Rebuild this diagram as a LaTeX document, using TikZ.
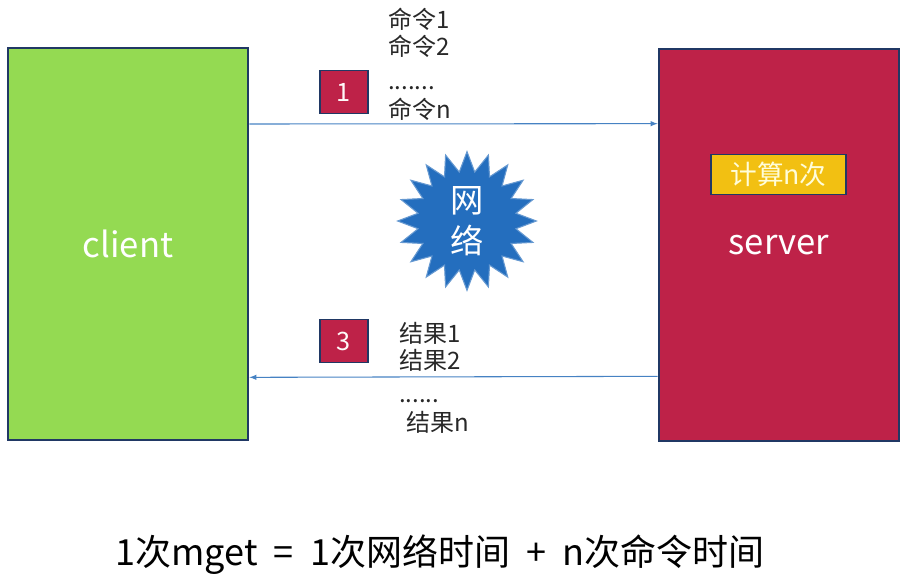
\documentclass[tikz,border=0pt]{standalone}
\usepackage{fontspec}
\setmainfont{Noto Sans CJK SC}
\usetikzlibrary{shapes.geometric,arrows}

\definecolor{vert}{RGB}{148,218,82}
\definecolor{rouge}{RGB}{190,34,72}
\definecolor{bordure}{RGB}{32,56,100}
\definecolor{jaune}{RGB}{242,192,18}
\definecolor{fil}{RGB}{70,130,195}
\definecolor{bleu}{RGB}{36,110,190}
\definecolor{texte}{RGB}{40,40,40}

\begin{document}
\begin{tikzpicture}[x=0.75pt,y=-0.75pt]
      \tikzstyle{boite}=[draw=bordure, line width=2pt, minimum width=180pt, minimum height=294pt, text=white, font=\fontsize{26}{30}\selectfont]
      \tikzstyle{etape}=[draw=bordure, line width=1.2pt, fill=rouge, text=white!90!pink, minimum width=36pt, minimum height=32pt, inner sep=0pt, font=\fontsize{19}{22}\selectfont]
      \tikzstyle{ligne}=[anchor=base west, inner sep=0pt, text=texte, font=\fontsize{18}{22}\selectfont]
      \tikzstyle{fleche}=[-latex, fil, line width=0.8pt]

      \useasboundingbox (0,0) rectangle (908,585);

      \node[boite, fill=vert] (client) at (128,244) {client};
      \node[boite, fill=rouge] (server) at (779,245) {server};
      \node[draw=bordure, line width=1.2pt, fill=jaune, text=white!85!yellow, minimum width=101pt, minimum height=30pt, inner sep=0pt, font=\fontsize{20}{24}\selectfont] (calc) at (778.5,174.5) {计算n次};

      \node[star, star points=20, star point ratio=1.4, fill=bleu, draw=bleu!70!white, line width=0.8pt, minimum size=104pt, inner sep=0pt, text=white, align=center, font=\fontsize{25}{31}\selectfont] (reseau) at (467,221) {网\\络};

      \node[etape] (un) at (344,92) {1};
      \node[etape] (trois) at (344,341) {3};

      \node[ligne] (cmd1) at (388,29) {命令1};
      \node[ligne] (cmd2) at (388,56) {命令2};
      \node[ligne] (cmdp) at (388,90) {.......};
      \node[ligne] (cmdn) at (388,118) {命令n};

      \node[ligne] (res1) at (399,342) {结果1};
      \node[ligne] (res2) at (399,369) {结果2};
      \node[ligne] (resp) at (399,402) {......};
      \node[ligne] (resn) at (406,431) {结果n};

      \draw[fleche] ([yshift=90pt]client.east)--([yshift=91pt]server.west);
      \draw[fleche] ([yshift=-98.5pt]server.west)--([yshift=-100pt]client.east);

      \node[text=black, font=\fontsize{27}{32}\selectfont] (formule) at (440,555) {1次mget\hspace{0.45em}=\hspace{0.45em}1次网络时间\hspace{0.45em}+\hspace{0.45em}n次命令时间};

    \end{tikzpicture}
\end{document}
